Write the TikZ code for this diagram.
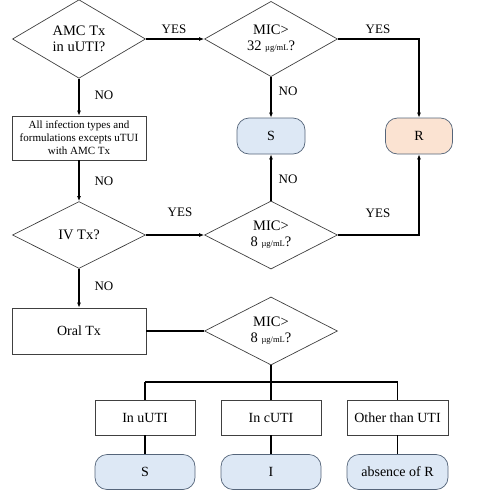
\documentclass[tikz,border=0pt]{standalone}
\usepackage{fontspec}
\setmainfont{Liberation Serif}
\usetikzlibrary{shapes.geometric,arrows.meta}
\definecolor{pillblue}{HTML}{DDE8F5}
\definecolor{pillpeach}{HTML}{FBE3D2}
\definecolor{pillline}{HTML}{55657A}
\begin{document}
\begin{tikzpicture}[x=1pt,y=-1pt,
  dec/.style={diamond,draw=black!75,line width=0.7pt,inner sep=0pt,minimum width=133pt,minimum height=67pt,align=center,font=\fontsize{14.5}{16}\selectfont},
  proc/.style={rectangle,draw=black!75,line width=0.7pt,inner sep=1pt,align=center,font=\fontsize{14}{16}\selectfont},
  pill/.style={rectangle,rounded corners=12pt,draw=pillline,line width=0.7pt,fill=pillblue,align=center,font=\fontsize{14}{16}\selectfont},
  conn/.style={line width=1.3pt},
  arr/.style={conn,-{Latex[length=5pt,width=4pt]}},
  lab/.style={font=\fontsize{13}{15}\selectfont,inner sep=0pt}]
\useasboundingbox (0,0) rectangle (483,498);
% decisions
\node[dec] (d1) at (79,39) {AMC Tx\\in uUTI?};
\node[dec] (d2) at (271,39) {MIC>\\32 {\fontsize{8.5}{9}\selectfont µg/mL}?};
\node[dec] (d3) at (79,235) {IV Tx?};
\node[dec] (d4) at (271,235) {MIC>\\8 {\fontsize{8.5}{9}\selectfont µg/mL}?};
\node[dec] (d5) at (271,331) {MIC>\\8 {\fontsize{8.5}{9}\selectfont µg/mL}?};
% processes
\node[proc,minimum width=134pt,minimum height=44pt,font=\fontsize{11}{13}\selectfont] (b1) at (79,138) {All infection types and\\formulations excepts uTUI\\with AMC Tx};
\node[proc,minimum width=134pt,minimum height=46pt] (oral) at (79,331) {Oral Tx};
\node[proc,minimum width=100pt,minimum height=35pt] (uuti) at (145,417.5) {In uUTI};
\node[proc,minimum width=100pt,minimum height=35pt] (cuti) at (271,417.5) {In cUTI};
\node[proc,minimum width=101pt,minimum height=35pt] (other) at (397.5,417.5) {Other than UTI};
% terminals
\node[pill,minimum width=68pt,minimum height=36pt] (S1) at (271,136) {S};
\node[pill,fill=pillpeach,minimum width=67pt,minimum height=36pt] (R) at (419,136) {R};
\node[pill,minimum width=100pt,minimum height=35pt] (S2) at (145,472) {S};
\node[pill,minimum width=100pt,minimum height=35pt] (I) at (271,472) {I};
\node[pill,minimum width=101pt,minimum height=35pt] (abs) at (397.5,472) {absence of R};
% connectors
\draw[arr] (d1.east) -- (d2.west);
\draw[arr] (d2.east) -| (R.north);
\draw[arr] (d1.south) -- (b1.north);
\draw[arr] (d2.south) -- (S1.north);
\draw[arr] (b1.south) -- (d3.north);
\draw[arr] (d4.north) -- (S1.south);
\draw[arr] (d3.east) -- (d4.west);
\draw[arr] (d4.east) -| (R.south);
\draw[arr] (d3.south) -- (oral.north);
\draw[conn] (oral.east) -- (d5.west);
\coordinate (bus) at (271,382);
\coordinate (busL) at (145,382);
\coordinate (busR) at (397.5,382);
\draw[conn] (d5.south) -- (bus);
\draw[conn] (busL) -- (busR);
\draw[conn] (busL) -- (uuti.north);
\draw[conn] (bus) -- (cuti.north);
\draw[conn] (busR) -- (other.north);
\draw[conn] (uuti.south) -- (S2.north);
\draw[conn] (cuti.south) -- (I.north);
\draw[conn] (other.south) -- (abs.north);
% labels
\node[lab] (y1) at (174,29) {YES};
\node[lab] (y2) at (378,29) {YES};
\node[lab] (n1) at (104,95) {NO};
\node[lab] (n2) at (288,91) {NO};
\node[lab] (n3) at (104,181) {NO};
\node[lab] (n4) at (288,179) {NO};
\node[lab] (y3) at (180,212) {YES};
\node[lab] (y4) at (378,213) {YES};
\node[lab] (n5) at (104,286) {NO};
\end{tikzpicture}
\end{document}
